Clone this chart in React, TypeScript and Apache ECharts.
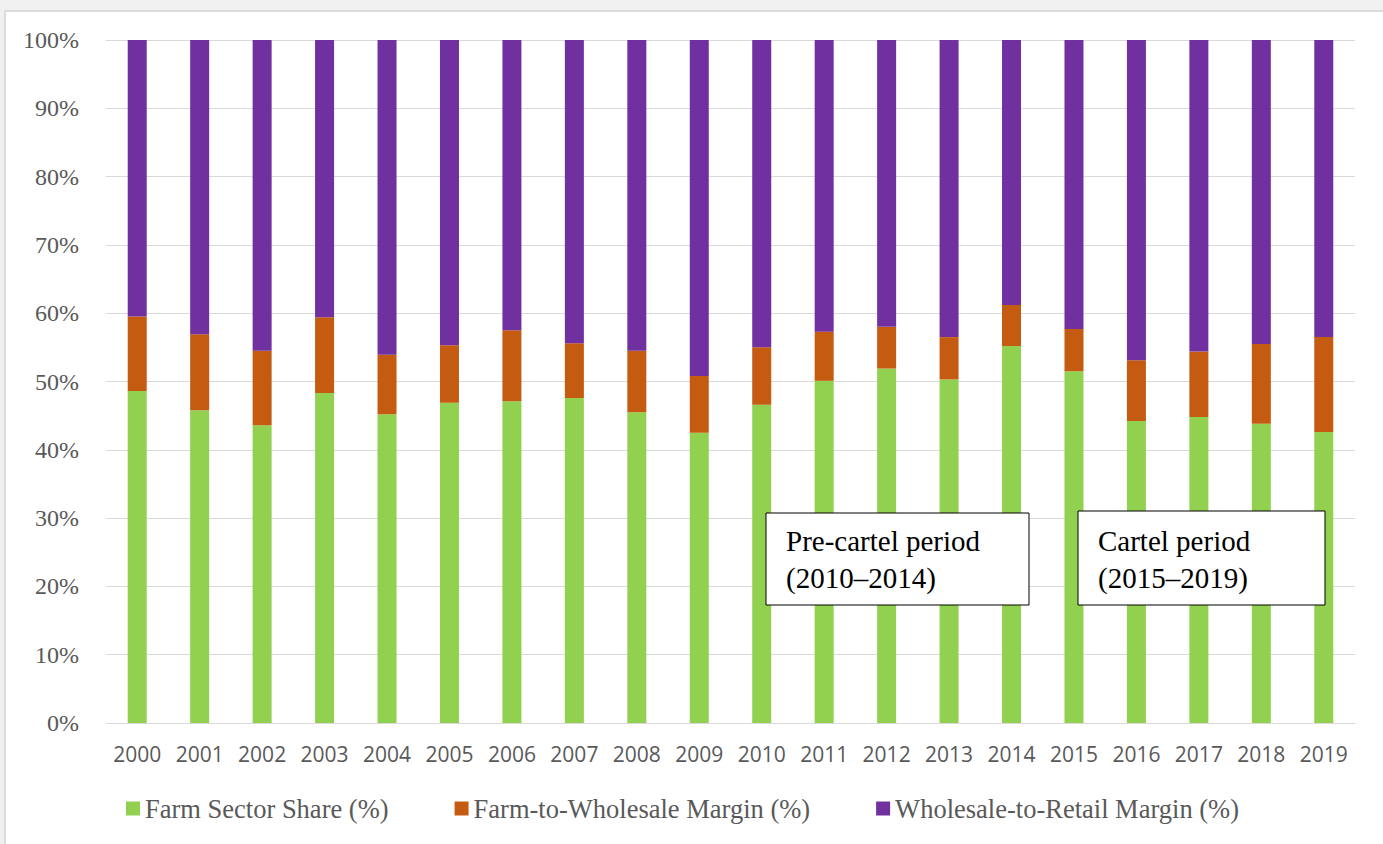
import React, { useEffect, useRef } from "react";
import * as echarts from "echarts";

const years = ["2000","2001","2002","2003","2004","2005","2006","2007","2008","2009","2010","2011","2012","2013","2014","2015","2016","2017","2018","2019"];
const farmShare = [48.6,45.8,43.6,48.3,45.2,46.9,47.1,47.6,45.5,42.5,46.6,50.1,51.9,50.3,55.2,51.5,44.2,44.8,43.8,42.6];
const farmToWholesale = [10.9,11.1,10.9,11.1,8.7,8.4,10.4,8.0,9.0,8.3,8.4,7.2,6.1,6.2,6.0,6.2,8.9,9.6,11.7,13.9];
const wholesaleToRetail = [40.5,43.1,45.5,40.6,46.1,44.7,42.5,44.4,45.5,49.2,45.0,42.7,42.0,43.5,38.8,42.3,46.9,45.6,44.5,43.5];
const seriesNames = ["Farm Sector Share (%)", "Farm-to-Wholesale Margin (%)", "Wholesale-to-Retail Margin (%)"];
const seriesColors = ["#92d050", "#c55a11", "#7030a0"];
const annotations = [
  { line1: "Pre-cartel period", line2: "(2010–2014)" },
  { line1: "Cartel period", line2: "(2015–2019)" },
];

export default function App() {
  const ref = useRef<HTMLDivElement>(null);
  useEffect(() => {
    if (!ref.current) return;
    const chart = echarts.init(ref.current, null, { renderer: "svg" });
    const serif = "Liberation Serif";
    const data = [farmShare, farmToWholesale, wholesaleToRetail];
    chart.setOption({
      animation: false,
      grid: { left: 106, right: 28, top: 40, bottom: 121, containLabel: false },
      legend: {
        left: 126,
        top: 795,
        padding: 0,
        icon: "rect",
        itemWidth: 14,
        itemHeight: 14,
        itemGap: 66,
        textStyle: { fontFamily: serif, fontSize: 26.5, color: "#595959" },
        data: seriesNames,
      },
      xAxis: {
        type: "category",
        data: years,
        axisLine: { lineStyle: { color: "#d9d9d9", width: 1 } },
        axisTick: { show: false },
        axisLabel: { fontFamily: "Open Sans", fontSize: 21, color: "#595959", margin: 20 },
      },
      yAxis: {
        type: "value",
        min: 0,
        max: 100,
        interval: 10,
        axisLine: { show: false },
        axisTick: { show: false },
        splitLine: { lineStyle: { color: "#d9d9d9", width: 1 } },
        axisLabel: { formatter: "{value}%", fontFamily: serif, fontSize: 24, color: "#595959", margin: 27 },
      },
      series: data.map((d, i) => ({
        name: seriesNames[i],
        type: "bar",
        stack: "total",
        barWidth: 19,
        data: d,
        itemStyle: { color: seriesColors[i] },
      })),
      graphic: [
        { type: "rect", shape: { x: 766, y: 513, width: 263, height: 92 }, style: { fill: "#fff", stroke: "#000", lineWidth: 1 }, z: 100 },
        { type: "text", x: 786, y: 522, style: { text: annotations[0].line1 + "\n" + annotations[0].line2, font: "29px Liberation Serif", lineHeight: 37, fill: "#000" }, z: 101 },
        { type: "rect", shape: { x: 1078, y: 511, width: 247, height: 94 }, style: { fill: "#fff", stroke: "#000", lineWidth: 1 }, z: 100 },
        { type: "text", x: 1098, y: 522, style: { text: annotations[1].line1 + "\n" + annotations[1].line2, font: "29px Liberation Serif", lineHeight: 37, fill: "#000" }, z: 101 },
      ],
    });
    return () => chart.dispose();
  }, []);
  return (
    <div style={{ position: "fixed", left: 0, top: 0, width: 1383, height: 844, background: "#f0f0f0", overflow: "hidden" }}>
      <div style={{ position: "absolute", left: 4, top: 10, width: 1379, height: 834, background: "#fff", borderLeft: "2px solid #dcdcdc", borderTop: "2px solid #dcdcdc", boxSizing: "border-box" }} />
      <div ref={ref} style={{ position: "absolute", left: 0, top: 0, width: 1383, height: 844 }} />
    </div>
  );
}
